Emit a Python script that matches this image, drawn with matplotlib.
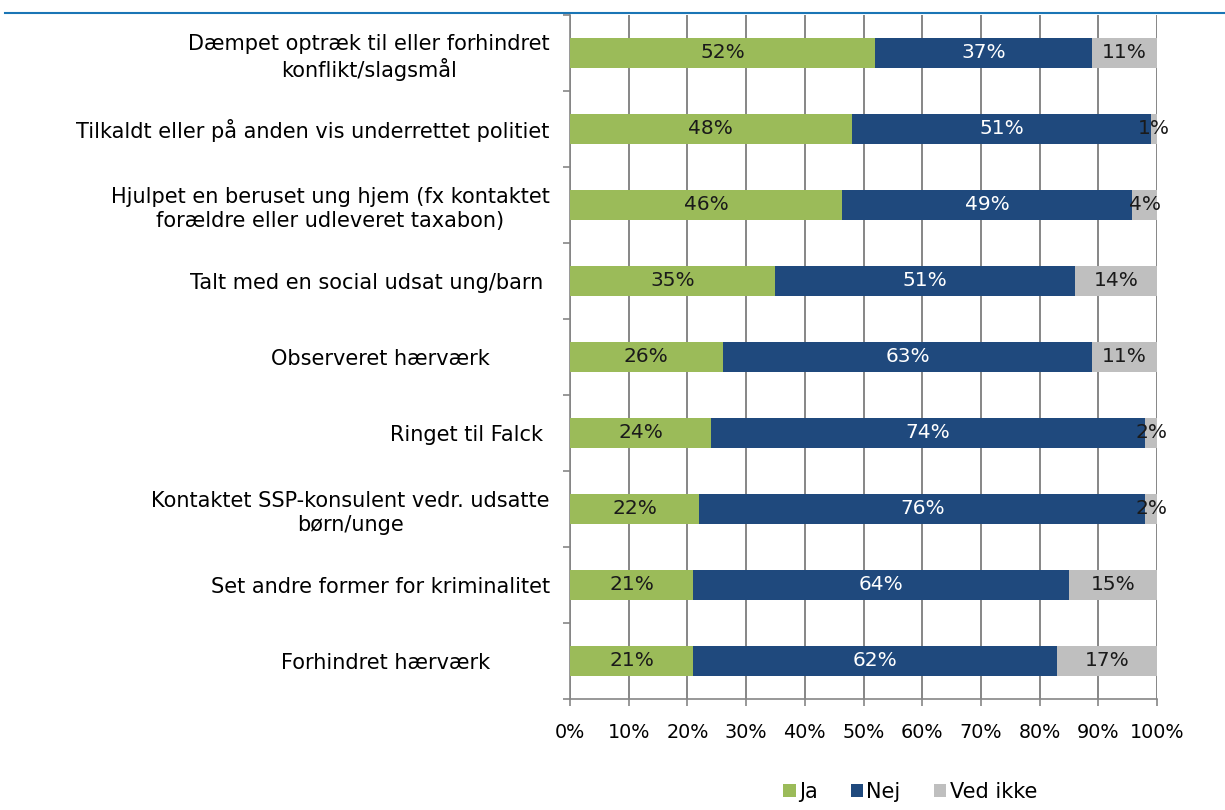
import matplotlib.pyplot as plt
from matplotlib.lines import Line2D

# Category labels (top to bottom), with trailing spaces as in the original
categories = [
    'Dæmpet optræk til eller forhindret\nkonflikt/slagsmål',
    'Tilkaldt eller på anden vis underrettet politiet',
    'Hjulpet en beruset ung hjem (fx kontaktet\nforældre eller udleveret taxabon)',
    'Talt med en social udsat ung/barn ',
    'Observeret hærværk         ',
    'Ringet til Falck ',
    'Kontaktet SSP-konsulent vedr. udsatte\nbørn/unge',
    'Set andre former for kriminalitet',
    'Forhindret hærværk         ',
]
ja = [52, 48, 46.4, 35, 26, 24, 22, 21, 21]
nej = [37, 51, 49.4, 51, 63, 74, 76, 64, 62]
ved_ikke = [11, 1, 4.2, 14, 11, 2, 2, 15, 17]

series = [('Ja', ja, '#9BBB59', '#1a1a1a'),
          ('Nej', nej, '#1F497D', 'white'),
          ('Ved ikke', ved_ikke, '#BFBFBF', '#1a1a1a')]

plt.rcParams['font.family'] = 'DejaVu Sans'

fig = plt.figure(figsize=(12.25, 8.1), dpi=100)
ax = fig.add_axes([570 / 1225, 1 - 699 / 810, 587 / 1225, 684 / 810])

n = len(categories)
ypos = list(range(n))
left = [0] * n
for name, vals, color, tcolor in series:
    bars = ax.barh(ypos, vals, left=left, height=0.4, color=color,
                   label=name, zorder=3)
    for b, v in zip(bars, vals):
        ax.text(b.get_x() + b.get_width() / 2, b.get_y() + b.get_height() / 2,
                f'{v:.0f}%', ha='center', va='center', color=tcolor,
                fontsize=14.5, zorder=4)
    left = [l + v for l, v in zip(left, vals)]

ax.set_xlim(0, 100)
ax.set_ylim(n - 0.5, -0.5)
ax.set_xticks(range(0, 101, 10))
ax.set_xticklabels([f'{t}%' for t in range(0, 101, 10)], fontsize=13.8)
ax.set_yticks(ypos)
ax.set_yticklabels(categories, fontsize=15, multialignment='center',
                   linespacing=1.25)
ax.tick_params(axis='y', length=0, pad=14.5)
ax.set_yticks([i - 0.5 for i in range(n + 1)], minor=True)
ax.tick_params(axis='y', which='minor', length=5, color='#868686', width=1.2)
ax.tick_params(axis='x', length=5, color='#868686', width=1.2, pad=12)

ax.grid(axis='x', color='#868686', linewidth=1.4, zorder=0)
ax.set_axisbelow(True)
for s in ['top', 'right']:
    ax.spines[s].set_visible(False)
for s in ['left', 'bottom']:
    ax.spines[s].set_color('#868686')
    ax.spines[s].set_linewidth(1.2)

# top rule
fig.add_artist(Line2D([5 / 1225, 1], [1 - 13 / 810] * 2, color='#1A75B5',
                      linewidth=1.5, transform=fig.transFigure))

fig.legend(loc='center', bbox_to_anchor=(910 / 1225, 1 - 792 / 810), ncol=3,
           frameon=False, fontsize=15, handlelength=0.6, handleheight=0.6,
           handletextpad=0.15, columnspacing=1.6)

plt.savefig('out.png', dpi=100)
plt.close()
